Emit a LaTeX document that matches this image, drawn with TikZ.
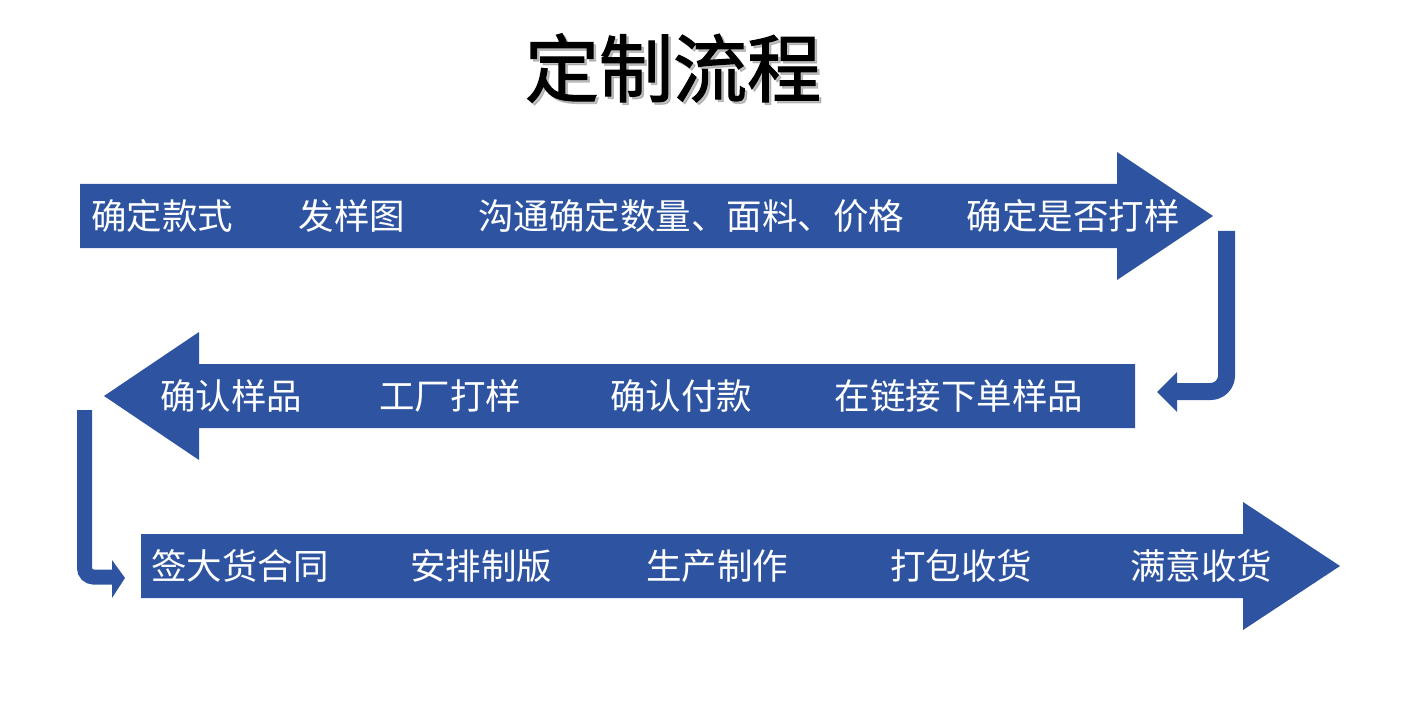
\documentclass[tikz,border=0pt]{standalone}
\usepackage{fontspec}
\newfontfamily\cjk{Noto Sans CJK SC}
\newfontfamily\cjktitle[FakeBold=1.6]{Noto Sans CJK SC}
\definecolor{flowblue}{RGB}{46,84,161}
\begin{document}
\begin{tikzpicture}[x=1pt,y=-1pt,
  band/.style={fill=flowblue,draw=none},
  lbl/.style={text=white,font=\cjk\fontsize{35.5}{40}\selectfont,inner sep=0pt,anchor=center},
  ttl/.style={font=\cjktitle\fontsize{74}{80}\selectfont,inner sep=0pt},
  conn/.style={draw=flowblue,line width=17pt},
  tip/.style={fill=flowblue,draw=none}]
\useasboundingbox (0,0) rectangle (1420,703);
\fill[white] (0,0) rectangle (1420,703);
% title with shadow
\node (shadow) [ttl,text=black!40,opacity=0.6] at (675.5,70.5) {定制流程};
\node (title) [ttl,text=black] at (673,68) {定制流程};
% row 1 arrow
\fill[band] (80,184) -- (1117,184) -- (1117,152) -- (1213,216) -- (1117,280) -- (1117,248) -- (80,248) -- cycle;
\node (a1) [lbl] at (162,216) {确定款式};
\node (a2) [lbl] at (352,216) {发样图};
\node (a3) [lbl] at (691,216) {沟通确定数量、面料、价格};
\node (a4) [lbl] at (1073,216) {确定是否打样};
% row 2 arrow
\fill[band] (1135,364) -- (199,364) -- (199,332) -- (104,396) -- (199,460) -- (199,428) -- (1135,428) -- cycle;
\node (b1) [lbl] at (231,396) {确认样品};
\node (b2) [lbl] at (450,396) {工厂打样};
\node (b3) [lbl] at (681,396) {确认付款};
\node (b4) [lbl] at (959,396) {在链接下单样品};
% row 3 arrow
\fill[band] (141,534) -- (1243,534) -- (1243,502) -- (1340,566) -- (1243,630) -- (1243,598) -- (141,598) -- cycle;
\node (c1) [lbl] at (240,566) {签大货合同};
\node (c2) [lbl] at (481,566) {安排制版};
\node (c3) [lbl] at (717,566) {生产制作};
\node (c4) [lbl] at (961,566) {打包收货};
\node (c5) [lbl] at (1201,566) {满意收货};
% right connector
\coordinate (r0) at (1226.5,231);
\coordinate (r1) at (1226.5,391.5);
\coordinate (r2) at (1176,391.5);
\draw[conn,rounded corners=16pt] (r0) -- (r1) -- (r2);
\fill[tip] (1177,372) -- (1157,392) -- (1177,412) -- cycle;
% left connector
\coordinate (l0) at (84.5,410);
\coordinate (l1) at (84.5,577);
\coordinate (l2) at (113,577);
\draw[conn,line width=15pt,rounded corners=9pt] (l0) -- (l1) -- (l2);
\fill[tip] (112,560) -- (125,578) -- (112,598) -- cycle;
\end{tikzpicture}
\end{document}
